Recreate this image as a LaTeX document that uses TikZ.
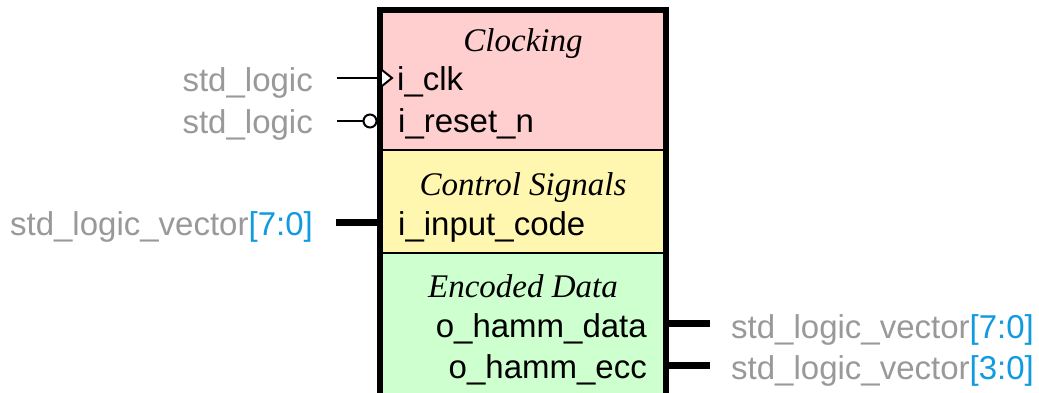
\documentclass[tikz,border=0pt]{standalone}
\usepackage{fontspec}
\setmainfont{Liberation Serif}
\setsansfont{Liberation Sans}
\definecolor{clkfill}{RGB}{255,206,206}
\definecolor{ctlfill}{RGB}{255,246,176}
\definecolor{datfill}{RGB}{206,255,206}
\definecolor{typegray}{RGB}{153,153,153}
\definecolor{rangeblue}{RGB}{16,155,225}
\begin{document}
\begin{tikzpicture}[x=1pt,y=-1pt,
  section/.style={inner sep=0, outer sep=0, minimum width=286pt},
  title/.style={font=\rmfamily\itshape\fontsize{33}{38}\selectfont, anchor=base, inner sep=0},
  portname/.style={font=\sffamily\fontsize{33}{38}\selectfont, inner sep=0},
  typename/.style={font=\sffamily\fontsize{33}{38}\selectfont, text=typegray, inner sep=0},
  bitwire/.style={line width=2.5pt},
  buswire/.style={line width=7pt},
  divider/.style={line width=2pt},
  border/.style={line width=6pt, line join=miter}
]
\useasboundingbox (0,0) rectangle (1039,393);
\newcommand{\rng}[1]{\textcolor{rangeblue}{[#1]}}

% entity sections
\node[section, fill=clkfill, minimum height=140pt, anchor=north west] (clocking) at (380,10) {};
\node[section, fill=ctlfill, minimum height=103pt, anchor=north west] (control) at (380,150) {};
\node[section, fill=datfill, minimum height=150pt, anchor=north west] (encoded) at (380,253) {};
\draw[divider] (control.north west) -- (control.north east);
\draw[divider] (encoded.north west) -- (encoded.north east);
\draw[border] (encoded.south west) -- (clocking.north west) -- (clocking.north east) -- (encoded.south east);

% section titles
\node[title] (tclk) at (523,52) {Clocking};
\node[title] (tctl) at (523,195) {Control Signals};
\node[title] (tdat) at (523,297) {Encoded Data};

% port names
\node[portname, anchor=base west] (pclk) at (397,91) {i\_clk};
\node[portname, anchor=base west] (prst) at (398,133) {i\_reset\_n};
\node[portname, anchor=base west] (pin) at (398,235) {i\_input\_code};
\node[portname, anchor=base east] (pdata) at (647,337) {o\_hamm\_data};
\node[portname, anchor=base east] (pecc) at (647,378) {o\_hamm\_ecc};

% port types
\node[typename, anchor=base east] (tyclk) at (313,92) {std\_logic};
\node[typename, anchor=base east] (tyrst) at (313,134) {std\_logic};
\node[typename, anchor=base east] (tyin) at (313,235) {std\_logic\_vector\rng{7:0}};
\node[typename, anchor=base west] (tydata) at (731,338) {std\_logic\_vector\rng{7:0}};
\node[typename, anchor=base west] (tyecc) at (731,379) {std\_logic\_vector\rng{3:0}};

% wire end points
\coordinate (clkout) at (337,78);
\coordinate (clkin) at (382,78);
\coordinate (rstout) at (337,121);
\coordinate (rstbub) at (370,121);
\coordinate (inout) at (336,222);
\coordinate (inin) at (380,222);
\coordinate (dataout) at (666,323);
\coordinate (dataend) at (710,323);
\coordinate (eccout) at (666,365);
\coordinate (eccend) at (710,365);

% clock input with edge marker
\draw[bitwire] (clkout) -- (clkin);
\draw[line width=2pt, fill=white, line join=miter] ([yshift=-8pt]clkin) -- ([xshift=10pt]clkin) -- ([yshift=8pt]clkin);

% active-low reset with bubble
\draw[bitwire] (rstout) -- ([xshift=-6.5pt]rstbub);
\draw[line width=2pt, fill=white] (rstbub) circle (6.5pt);

% vector ports
\draw[buswire] (inout) -- (inin);
\draw[buswire] (dataout) -- (dataend);
\draw[buswire] (eccout) -- (eccend);
\end{tikzpicture}
\end{document}
